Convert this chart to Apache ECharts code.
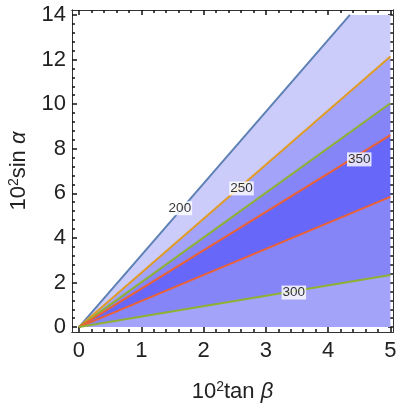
<!DOCTYPE html>
<html><head><meta charset="utf-8">
<script src="https://cdn.jsdelivr.net/npm/echarts@6/dist/echarts.min.js"></script>
<style>html,body{margin:0;padding:0;background:#fff}#c{width:399px;height:407px}</style>
</head><body><div id="c"></div>
<script>
// Axis ticks / labels
const xMajorTicks = [0, 1, 2, 3, 4, 5];
const yMajorTicks = [0, 2, 4, 6, 8, 10, 12, 14];
const xMinorStep = 0.2;
const yMinorStep = 0.4;

// Contour line end points (lines start at origin)
const contourNames  = ['200', '250', '300', '350', '350', '300'];
const contourEndX   = [4.35, 5, 5, 5, 5, 5];
const contourEndY   = [14, 12.13, 10.04, 8.61, 5.84, 2.34];
const contourColors = ['#5e81b5', '#e19c24', '#8fb131', '#eb6235', '#eb6235', '#8fb131'];

// Filled wedge regions between boundaries
const regionFill = ['#ccccfb', '#a3a3f9', '#8585f8', '#6767fa', '#8585f8', '#a3a3f9'];

// Contour labels
const labelText = ['200', '250', '350', '300'];
const labelX = [1.62, 2.61, 4.50, 3.45];
const labelY = [5.33, 6.22, 7.52, 1.55];

const xMin = -0.112, xMax = 5.042, yMin = -0.22, yMax = 14.22;

function range(a, b, s, skip) {
  const out = [];
  for (let i = 0; a + i * s <= b + 1e-9; i++) {
    const v = +(a + i * s).toFixed(4);
    if (!skip.some(m => Math.abs(m - v) < 1e-6)) out.push(v);
  }
  return out;
}
const xMinor = range(0, 5, xMinorStep, xMajorTicks);
const yMinor = range(0, 14, yMinorStep, yMajorTicks);

// region polygons (in data coordinates)
const regionPolys = [];
for (let i = 0; i < regionFill.length; i++) {
  const pts = [[0, 0]];
  if (i === 0) { pts.push([contourEndX[0], contourEndY[0]]); pts.push([5, 14]); }
  else pts.push([contourEndX[i], contourEndY[i]]);
  if (i + 1 < contourEndY.length) pts.push([contourEndX[i + 1], contourEndY[i + 1]]);
  else pts.push([5, 0]);
  regionPolys.push(pts);
}

const chart = echarts.init(document.getElementById('c'), null, {renderer: 'canvas'});
const font = 'Liberation Sans, Arial, sans-serif';
const frameColor = '#333';

function mkX(pos, custom, len, labels, extra) {
  return Object.assign({
    type: 'value', min: xMin, max: xMax, position: pos,
    axisLine: {show: true, onZero: false, lineStyle: {color: frameColor, width: 1}},
    axisTick: {show: true, inside: true, length: len, customValues: custom, lineStyle: {color: '#111', width: 1.5}},
    axisLabel: labels ? {show: true, customValues: xMajorTicks, fontFamily: font, fontSize: 22, color: '#222', margin: 8,
      formatter: v => String(Math.round(v))} : {show: false},
    splitLine: {show: false}
  }, extra || {});
}
function mkY(pos, custom, len, labels, extra) {
  return Object.assign({
    type: 'value', min: yMin, max: yMax, position: pos,
    axisLine: {show: true, onZero: false, lineStyle: {color: frameColor, width: 1}},
    axisTick: {show: true, inside: true, length: len, customValues: custom, lineStyle: {color: '#111', width: 1.5}},
    axisLabel: labels ? {show: true, customValues: yMajorTicks, fontFamily: font, fontSize: 22, color: '#222', margin: 6,
      formatter: v => String(Math.round(v))} : {show: false},
    splitLine: {show: false}
  }, extra || {});
}

const series = [];
series.push({
  type: 'custom', xAxisIndex: 0, yAxisIndex: 0, silent: true, z: 1,
  data: regionPolys.map((p, i) => [i]),
  renderItem: function (params, api) {
    const i = api.value(0);
    return {
      type: 'polygon',
      shape: {points: regionPolys[i].map(p => api.coord(p))},
      style: {fill: regionFill[i], stroke: null}
    };
  },
  clip: true
});
contourNames.forEach((n, i) => {
  series.push({
    type: 'line', xAxisIndex: 0, yAxisIndex: 0, silent: true, z: 3,
    data: [[0, 0], [contourEndX[i], contourEndY[i]]],
    symbol: 'none', lineStyle: {color: contourColors[i], width: 2}, animation: false
  });
});
series.push({
  type: 'scatter', xAxisIndex: 0, yAxisIndex: 0, silent: true, z: 5,
  symbolSize: 0,
  data: labelText.map((t, i) => [labelX[i], labelY[i], t]),
  label: {show: true, position: 'inside', formatter: p => p.value[2], fontFamily: font, fontSize: 13.5,
    color: '#000', backgroundColor: '#fff', padding: [0, 1]}
});

chart.setOption({
  animation: false,
  backgroundColor: '#fff',
  grid: {left: 72, top: 10, right: 6, bottom: 75, containLabel: false, outerBoundsMode: 'none'},
  xAxis: [
    mkX('bottom', xMajorTicks, 5, true, {
      name: '10{sup|2}tan {it|β}', nameLocation: 'middle', nameGap: 48,
      nameTextStyle: {fontFamily: font, fontSize: 22, color: '#222',
        rich: {sup: {fontFamily: font, fontSize: 14, color: '#222', verticalAlign: 'top', padding: [0, 0, 10, 0]},
               it: {fontFamily: font, fontSize: 22, fontStyle: 'italic', color: '#222'}}}
    }),
    mkX('bottom', xMinor, 3, false),
    mkX('top', xMajorTicks, 5, false),
    mkX('top', xMinor, 3, false)
  ],
  yAxis: [
    mkY('left', yMajorTicks, 5, true, {
      name: '10{sup|2}sin {it|α}', nameLocation: 'middle', nameGap: 41, nameRotate: 90,
      nameTextStyle: {fontFamily: font, fontSize: 22, color: '#222',
        rich: {sup: {fontFamily: font, fontSize: 14, color: '#222', verticalAlign: 'top', padding: [0, 0, 10, 0]},
               it: {fontFamily: font, fontSize: 22, fontStyle: 'italic', color: '#222'}}}
    }),
    mkY('left', yMinor, 3, false),
    mkY('right', yMajorTicks, 5, false),
    mkY('right', yMinor, 3, false)
  ],
  series: series
});
</script></body></html>
